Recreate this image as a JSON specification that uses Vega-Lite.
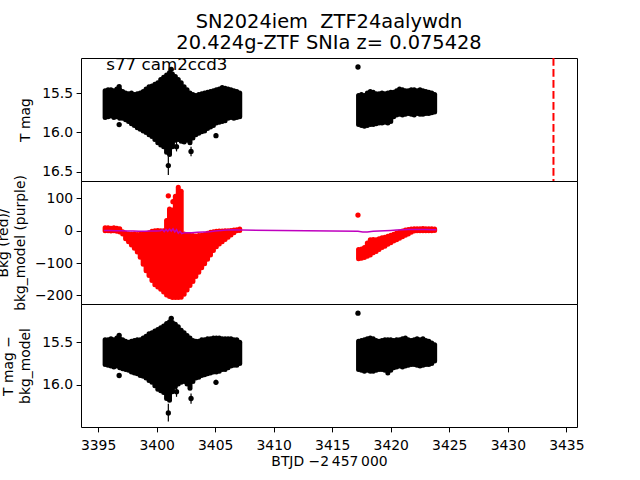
{
  "$schema": "https://vega.github.io/schema/vega-lite/v6.json",
  "padding": {"left": -4, "top": 11, "right": 0, "bottom": 0},
  "spacing": 0,
  "bounds": "flush",
  "config": {
    "font": "DejaVu Sans",
    "view": {"stroke": "black", "strokeWidth": 1},
    "axis": {
      "labelFont": "DejaVu Sans", "titleFont": "DejaVu Sans",
      "labelFontSize": 13.9, "titleFontSize": 13.9, "titleFontWeight": "normal",
      "labelColor": "black", "titleColor": "black", "tickColor": "black",
      "tickSize": 4.9, "tickWidth": 1, "labelPadding": 3.5, "grid": false, "domain": false,
      "labelFlush": false, "titleLineHeight": 16.7, "titlePadding": 9
    },
    "axisX": {"labelPadding": 7, "titlePadding": 2}
  },
  "datasets": {
    "cloud": [
      {"t":3395.6,"m1":15.47,"m2":15.81,"b1":9,"b2":0,"c1":15.47,"c2":15.76},
      {"t":3395.85,"m1":15.46,"m2":15.80,"b1":9,"b2":0,"c1":15.47,"c2":15.77},
      {"t":3396.1,"m1":15.46,"m2":15.79,"b1":8,"b2":-1,"c1":15.46,"c2":15.78},
      {"t":3396.35,"m1":15.47,"m2":15.81,"b1":9,"b2":0,"c1":15.47,"c2":15.79},
      {"t":3396.6,"m1":15.45,"m2":15.80,"b1":8,"b2":-2,"c1":15.45,"c2":15.78},
      {"t":3396.85,"m1":15.46,"m2":15.82,"b1":6,"b2":-4,"c1":15.46,"c2":15.80},
      {"t":3397.1,"m1":15.48,"m2":15.82,"b1":-3,"b2":-10,"c1":15.47,"c2":15.81},
      {"t":3397.35,"m1":15.50,"m2":15.84,"b1":-8,"b2":-25,"c1":15.49,"c2":15.82},
      {"t":3397.6,"m1":15.51,"m2":15.86,"b1":-10,"b2":-34,"c1":15.50,"c2":15.83},
      {"t":3397.85,"m1":15.50,"m2":15.89,"b1":-11,"b2":-44,"c1":15.49,"c2":15.85},
      {"t":3398.1,"m1":15.52,"m2":15.91,"b1":-10,"b2":-54,"c1":15.48,"c2":15.86},
      {"t":3398.35,"m1":15.51,"m2":15.94,"b1":-12,"b2":-66,"c1":15.47,"c2":15.87},
      {"t":3398.6,"m1":15.50,"m2":15.96,"b1":-11,"b2":-82,"c1":15.47,"c2":15.89},
      {"t":3398.85,"m1":15.48,"m2":15.98,"b1":-10,"b2":-104,"c1":15.45,"c2":15.90},
      {"t":3399.1,"m1":15.45,"m2":16.00,"b1":-9,"b2":-124,"c1":15.43,"c2":15.92},
      {"t":3399.35,"m1":15.42,"m2":16.03,"b1":-6,"b2":-139,"c1":15.40,"c2":15.95},
      {"t":3399.6,"m1":15.41,"m2":16.05,"b1":-2,"b2":-154,"c1":15.39,"c2":15.97},
      {"t":3399.85,"m1":15.39,"m2":16.09,"b1":0,"b2":-167,"c1":15.37,"c2":16.01},
      {"t":3400.1,"m1":15.37,"m2":16.13,"b1":1,"b2":-174,"c1":15.35,"c2":16.05},
      {"t":3400.35,"m1":15.33,"m2":16.16,"b1":0,"b2":-181,"c1":15.33,"c2":16.07},
      {"t":3400.6,"m1":15.30,"m2":16.18,"b1":0,"b2":-190,"c1":15.31,"c2":16.09},
      {"t":3400.85,"m1":15.27,"m2":16.25,"b1":32,"b2":-199,"c1":15.28,"c2":16.16},
      {"t":3401.1,"m1":15.24,"m2":16.28,"b1":67,"b2":-204,"c1":15.26,"c2":16.18},
      {"t":3401.35,"m1":15.26,"m2":16.18,"b1":64,"b2":-207,"c1":15.27,"c2":16.08},
      {"t":3401.6,"m1":15.29,"m2":16.10,"b1":107,"b2":-207,"c1":15.29,"c2":16.02},
      {"t":3401.85,"m1":15.33,"m2":16.09,"b1":135,"b2":-207,"c1":15.32,"c2":15.99},
      {"t":3402.1,"m1":15.37,"m2":16.11,"b1":122,"b2":-206,"c1":15.36,"c2":15.97},
      {"t":3402.35,"m1":15.42,"m2":16.12,"b1":-10,"b2":-197,"c1":15.39,"c2":15.96},
      {"t":3402.6,"m1":15.46,"m2":16.10,"b1":-13,"b2":-184,"c1":15.42,"c2":15.99},
      {"t":3402.85,"m1":15.50,"m2":16.13,"b1":-14,"b2":-170,"c1":15.45,"c2":16.04},
      {"t":3403.1,"m1":15.52,"m2":16.07,"b1":-15,"b2":-157,"c1":15.48,"c2":15.96},
      {"t":3403.35,"m1":15.53,"m2":16.03,"b1":-16,"b2":-142,"c1":15.49,"c2":15.92},
      {"t":3403.6,"m1":15.52,"m2":16.01,"b1":-15,"b2":-129,"c1":15.49,"c2":15.91},
      {"t":3403.85,"m1":15.51,"m2":15.99,"b1":-14,"b2":-115,"c1":15.47,"c2":15.89},
      {"t":3404.1,"m1":15.50,"m2":15.98,"b1":-12,"b2":-102,"c1":15.47,"c2":15.88},
      {"t":3404.35,"m1":15.49,"m2":15.95,"b1":-8,"b2":-88,"c1":15.46,"c2":15.87},
      {"t":3404.6,"m1":15.48,"m2":15.93,"b1":-5,"b2":-75,"c1":15.46,"c2":15.86},
      {"t":3404.85,"m1":15.47,"m2":15.91,"b1":-3,"b2":-61,"c1":15.45,"c2":15.85},
      {"t":3405.1,"m1":15.46,"m2":15.88,"b1":-2,"b2":-50,"c1":15.45,"c2":15.85},
      {"t":3405.35,"m1":15.45,"m2":15.87,"b1":-1,"b2":-41,"c1":15.45,"c2":15.84},
      {"t":3405.6,"m1":15.43,"m2":15.86,"b1":-1,"b2":-34,"c1":15.46,"c2":15.82},
      {"t":3405.85,"m1":15.44,"m2":15.85,"b1":0,"b2":-27,"c1":15.46,"c2":15.82},
      {"t":3406.1,"m1":15.45,"m2":15.82,"b1":0,"b2":-20,"c1":15.46,"c2":15.80},
      {"t":3406.35,"m1":15.46,"m2":15.81,"b1":1,"b2":-13,"c1":15.46,"c2":15.78},
      {"t":3406.6,"m1":15.47,"m2":15.82,"b1":2,"b2":-6,"c1":15.47,"c2":15.77},
      {"t":3406.85,"m1":15.48,"m2":15.81,"b1":3,"b2":0,"c1":15.47,"c2":15.77},
      {"t":3407.1,"m1":15.50,"m2":15.80,"b1":5,"b2":1,"c1":15.50,"c2":15.75},
      {"t":3417.25,"m1":15.53,"m2":15.90,"b1":-58,"b2":-87,"c1":15.49,"c2":15.82},
      {"t":3417.5,"m1":15.52,"m2":15.91,"b1":-57,"b2":-85,"c1":15.48,"c2":15.83},
      {"t":3417.75,"m1":15.53,"m2":15.92,"b1":-52,"b2":-83,"c1":15.47,"c2":15.84},
      {"t":3418.0,"m1":15.50,"m2":15.91,"b1":-38,"b2":-79,"c1":15.46,"c2":15.83},
      {"t":3418.25,"m1":15.48,"m2":15.90,"b1":-28,"b2":-75,"c1":15.45,"c2":15.84},
      {"t":3418.5,"m1":15.49,"m2":15.90,"b1":-27,"b2":-68,"c1":15.46,"c2":15.84},
      {"t":3418.75,"m1":15.51,"m2":15.89,"b1":-28,"b2":-64,"c1":15.48,"c2":15.83},
      {"t":3419.0,"m1":15.51,"m2":15.88,"b1":-25,"b2":-58,"c1":15.49,"c2":15.82},
      {"t":3419.25,"m1":15.50,"m2":15.88,"b1":-22,"b2":-52,"c1":15.48,"c2":15.82},
      {"t":3419.5,"m1":15.51,"m2":15.87,"b1":-20,"b2":-48,"c1":15.47,"c2":15.83},
      {"t":3419.75,"m1":15.50,"m2":15.88,"b1":-17,"b2":-42,"c1":15.47,"c2":15.86},
      {"t":3420.0,"m1":15.49,"m2":15.86,"b1":-14,"b2":-37,"c1":15.47,"c2":15.83},
      {"t":3420.25,"m1":15.49,"m2":15.80,"b1":-11,"b2":-32,"c1":15.48,"c2":15.80},
      {"t":3420.5,"m1":15.47,"m2":15.78,"b1":-7,"b2":-28,"c1":15.47,"c2":15.79},
      {"t":3420.75,"m1":15.45,"m2":15.77,"b1":-4,"b2":-23,"c1":15.47,"c2":15.78},
      {"t":3421.0,"m1":15.46,"m2":15.78,"b1":-1,"b2":-19,"c1":15.46,"c2":15.79},
      {"t":3421.25,"m1":15.47,"m2":15.77,"b1":2,"b2":-14,"c1":15.45,"c2":15.78},
      {"t":3421.5,"m1":15.47,"m2":15.76,"b1":4,"b2":-10,"c1":15.47,"c2":15.77},
      {"t":3421.75,"m1":15.46,"m2":15.77,"b1":5,"b2":-5,"c1":15.48,"c2":15.76},
      {"t":3422.0,"m1":15.46,"m2":15.78,"b1":6,"b2":-1,"c1":15.47,"c2":15.76},
      {"t":3422.25,"m1":15.47,"m2":15.76,"b1":6,"b2":0,"c1":15.46,"c2":15.77},
      {"t":3422.5,"m1":15.46,"m2":15.77,"b1":6,"b2":0,"c1":15.47,"c2":15.78},
      {"t":3422.75,"m1":15.47,"m2":15.77,"b1":7,"b2":0,"c1":15.46,"c2":15.77},
      {"t":3423.0,"m1":15.48,"m2":15.76,"b1":6,"b2":0,"c1":15.48,"c2":15.76},
      {"t":3423.25,"m1":15.49,"m2":15.76,"b1":6,"b2":0,"c1":15.49,"c2":15.76},
      {"t":3423.5,"m1":15.50,"m2":15.75,"b1":6,"b2":0,"c1":15.51,"c2":15.75},
      {"t":3423.75,"m1":15.52,"m2":15.74,"b1":5,"b2":1,"c1":15.53,"c2":15.72}
    ],
    "tmag_pts": [
      {"t":3396.8,"mag":15.42,"lo":15.40,"hi":15.44},
      {"t":3396.8,"mag":15.90,"lo":15.88,"hi":15.92},
      {"t":3401.25,"mag":15.20,"lo":15.18,"hi":15.23},
      {"t":3401.0,"mag":16.42,"lo":16.30,"hi":16.54},
      {"t":3401.7,"mag":16.18,"lo":16.12,"hi":16.24},
      {"t":3402.94,"mag":16.24,"lo":16.18,"hi":16.30},
      {"t":3405.07,"mag":16.04,"lo":16.01,"hi":16.07},
      {"t":3417.2,"mag":15.17,"lo":15.16,"hi":15.18}
    ],
    "corr_pts": [
      {"t":3396.8,"mag":15.42,"lo":15.40,"hi":15.44},
      {"t":3396.8,"mag":15.89,"lo":15.87,"hi":15.91},
      {"t":3401.25,"mag":15.22,"lo":15.20,"hi":15.25},
      {"t":3401.0,"mag":16.33,"lo":16.22,"hi":16.43},
      {"t":3401.7,"mag":16.08,"lo":16.02,"hi":16.14},
      {"t":3402.94,"mag":16.16,"lo":16.10,"hi":16.22},
      {"t":3405.07,"mag":15.97,"lo":15.94,"hi":16.00},
      {"t":3417.2,"mag":15.16,"lo":15.15,"hi":15.17}
    ],
    "bkg_pts": [
      {"t":3401.0,"v":108},
      {"t":3401.4,"v":90},
      {"t":3417.2,"v":48.6}
    ],
    "model": [
      {"t":3395.5,"v":1},{"t":3396.0,"v":1},{"t":3396.5,"v":0},{"t":3397.0,"v":0},
      {"t":3397.5,"v":-1},{"t":3398.0,"v":-1},{"t":3398.5,"v":-2},{"t":3399.0,"v":-2},
      {"t":3399.5,"v":-1},{"t":3400.0,"v":-1},{"t":3400.3,"v":0},{"t":3400.5,"v":3},
      {"t":3400.65,"v":-3},{"t":3400.8,"v":4},{"t":3400.95,"v":-2},{"t":3401.1,"v":5},
      {"t":3401.25,"v":-1},{"t":3401.4,"v":6},{"t":3401.55,"v":-4},{"t":3401.7,"v":3},
      {"t":3401.85,"v":-8},{"t":3402.0,"v":-2},{"t":3402.15,"v":-9},{"t":3402.4,"v":-6},
      {"t":3403.0,"v":-6},{"t":3403.5,"v":-5},{"t":3404.0,"v":-4},{"t":3404.5,"v":-3},
      {"t":3405.0,"v":-1},{"t":3405.5,"v":1},{"t":3406.0,"v":2},{"t":3406.5,"v":3},
      {"t":3407.0,"v":2},{"t":3407.3,"v":2},{"t":3417.2,"v":-2},{"t":3417.6,"v":-4},
      {"t":3418.0,"v":-4},{"t":3418.5,"v":-2},{"t":3419.0,"v":-1},{"t":3419.5,"v":0},
      {"t":3420.0,"v":1},{"t":3420.5,"v":2},{"t":3421.0,"v":3},{"t":3421.5,"v":4},
      {"t":3422.0,"v":4},{"t":3422.5,"v":4},{"t":3423.0,"v":4},{"t":3423.5,"v":3},
      {"t":3423.9,"v":3}
    ],
    "marker": [{"t":3433.9}],
    "label": [{"t":3395.7,"mag":15.21,"text":"s77 cam2ccd3"}]
  },
  "vconcat": [
    {
      "width": 496, "height": 123,
      "title": {
        "text": ["SN2024iem\u00a0 ZTF24aalywdn", "20.424g-ZTF SNIa z= 0.075428"],
        "fontSize": 19.4, "font": "DejaVu Sans", "fontWeight": "normal", "color": "black",
        "anchor": "middle", "frame": "group", "lineHeight": 21, "offset": 4
      },
      "layer": [
        {
          "data": {"name": "cloud"},
          "mark": {"type": "rule", "strokeWidth": 5, "strokeCap": "round", "color": "black"},
          "encoding": {
            "x": {"field": "t", "type": "quantitative", "scale": {"domain": [3393.54, 3435.91], "nice": false, "zero": false}, "axis": null},
            "y": {"field": "m1", "type": "quantitative", "scale": {"domain": [15.056, 16.615], "reverse": true, "nice": false, "zero": false},
                  "axis": {"title": "T mag", "values": [15.5, 16.0, 16.5], "format": ".1f"}},
            "y2": {"field": "m2"}
          }
        },
        {
          "data": {"name": "tmag_pts"},
          "mark": {"type": "rule", "strokeWidth": 1.2, "color": "black"},
          "encoding": {
            "x": {"field": "t", "type": "quantitative"},
            "y": {"field": "lo", "type": "quantitative"},
            "y2": {"field": "hi"}
          }
        },
        {
          "data": {"name": "tmag_pts"},
          "mark": {"type": "circle", "size": 28, "opacity": 1, "color": "black"},
          "encoding": {
            "x": {"field": "t", "type": "quantitative"},
            "y": {"field": "mag", "type": "quantitative"}
          }
        },
        {
          "data": {"name": "marker"},
          "mark": {"type": "rule", "color": "#ff0000", "strokeWidth": 2, "strokeDash": [7.7, 3.3]},
          "encoding": {"x": {"field": "t", "type": "quantitative"}}
        },
        {
          "data": {"name": "label"},
          "mark": {"type": "text", "fontSize": 16.7, "align": "left", "baseline": "alphabetic", "color": "black"},
          "encoding": {
            "x": {"field": "t", "type": "quantitative"},
            "y": {"field": "mag", "type": "quantitative"},
            "text": {"field": "text"}
          }
        }
      ]
    },
    {
      "width": 496, "height": 123,
      "layer": [
        {
          "data": {"name": "cloud"},
          "mark": {"type": "rule", "strokeWidth": 5, "strokeCap": "round", "color": "#ff0000"},
          "encoding": {
            "x": {"field": "t", "type": "quantitative", "scale": {"domain": [3393.54, 3435.91], "nice": false, "zero": false}, "axis": null},
            "y": {"field": "b1", "type": "quantitative", "scale": {"domain": [-227, 154], "nice": false, "zero": false},
                  "axis": {"title": ["Bkg (red)/", "bkg_model (purple)"], "values": [100, 0, -100, -200], "format": "d", "titlePadding": 7}},
            "y2": {"field": "b2"}
          }
        },
        {
          "data": {"name": "bkg_pts"},
          "mark": {"type": "circle", "size": 28, "opacity": 1, "color": "#ff0000"},
          "encoding": {
            "x": {"field": "t", "type": "quantitative"},
            "y": {"field": "v", "type": "quantitative"}
          }
        },
        {
          "data": {"name": "model"},
          "mark": {"type": "line", "color": "#bf00bf", "strokeWidth": 1.5},
          "encoding": {
            "x": {"field": "t", "type": "quantitative"},
            "y": {"field": "v", "type": "quantitative"}
          }
        }
      ]
    },
    {
      "width": 496, "height": 123,
      "layer": [
        {
          "data": {"name": "cloud"},
          "mark": {"type": "rule", "strokeWidth": 5, "strokeCap": "round", "color": "black"},
          "encoding": {
            "x": {"field": "t", "type": "quantitative", "scale": {"domain": [3393.54, 3435.91], "nice": false, "zero": false},
                  "axis": {"title": "BTJD \u22122\u2009457\u2009000", "values": [3395, 3400, 3405, 3410, 3415, 3420, 3425, 3430, 3435], "format": "d"}},
            "y": {"field": "c1", "type": "quantitative", "scale": {"domain": [15.052, 16.494], "reverse": true, "nice": false, "zero": false},
                  "axis": {"title": ["T mag \u2212", "bkg_model"], "values": [15.5, 16.0], "format": ".1f"}},
            "y2": {"field": "c2"}
          }
        },
        {
          "data": {"name": "corr_pts"},
          "mark": {"type": "rule", "strokeWidth": 1.2, "color": "black"},
          "encoding": {
            "x": {"field": "t", "type": "quantitative"},
            "y": {"field": "lo", "type": "quantitative"},
            "y2": {"field": "hi"}
          }
        },
        {
          "data": {"name": "corr_pts"},
          "mark": {"type": "circle", "size": 28, "opacity": 1, "color": "black"},
          "encoding": {
            "x": {"field": "t", "type": "quantitative"},
            "y": {"field": "mag", "type": "quantitative"}
          }
        }
      ]
    }
  ]
}
